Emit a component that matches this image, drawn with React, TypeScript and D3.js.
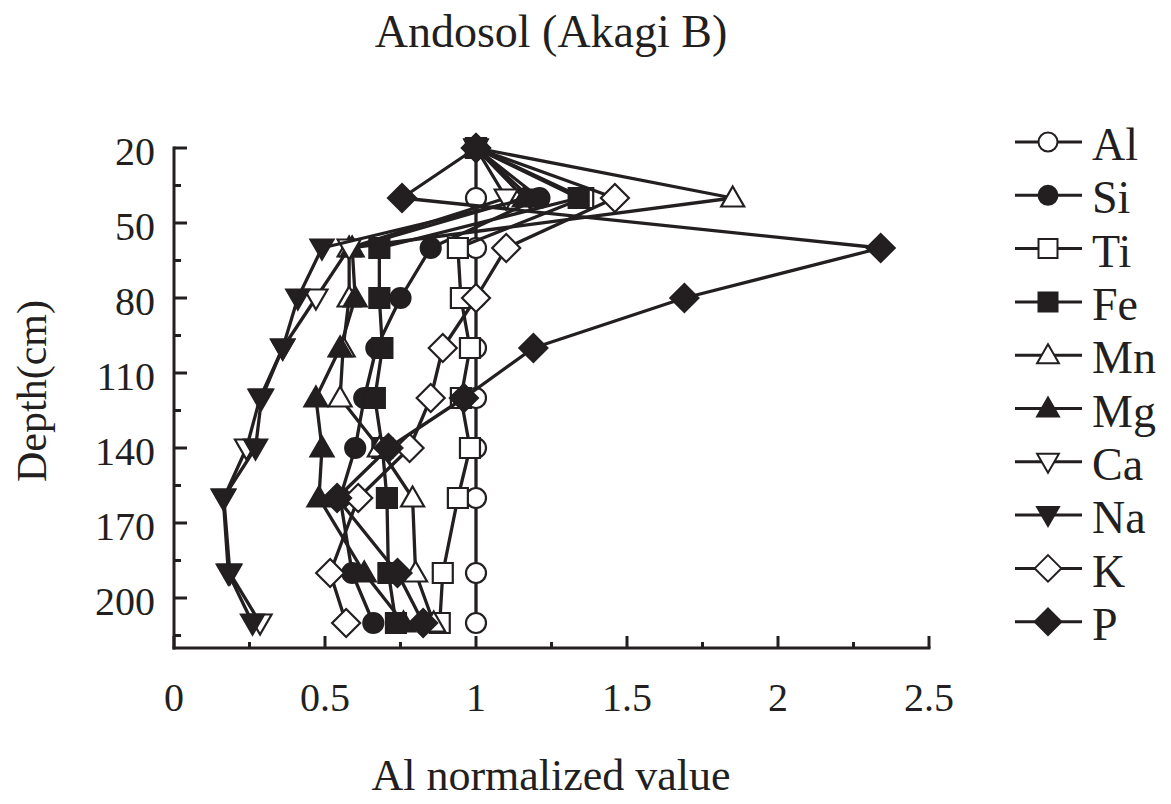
import React from "react";
import * as d3 from "d3";

// Sampling depths (cm)
const depths = [20, 40, 60, 80, 100, 120, 140, 160, 190, 210];

// Al-normalized values for each element, one per depth
const al = [1, 1, 1, 1, 1, 1, 1, 1, 1, 1];
const si = [1, 1.21, 0.85, 0.75, 0.67, 0.63, 0.6, 0.55, 0.59, 0.66];
const ti = [1, 1.355, 0.94, 0.95, 0.98, 0.95, 0.98, 0.94, 0.89, 0.88];
const fe = [1, 1.34, 0.68, 0.68, 0.69, 0.665, 0.69, 0.705, 0.71, 0.735];
const mn = [1, 1.85, 0.58, 0.58, 0.56, 0.55, 0.68, 0.79, 0.8, 0.86];
const mg = [1, 1.16, 0.59, 0.6, 0.55, 0.47, 0.49, 0.48, 0.63, 0.76];
const ca = [1, 1.1, 0.58, 0.47, 0.36, 0.285, 0.24, 0.165, 0.185, 0.285];
const na = [1, 1.18, 0.49, 0.41, 0.36, 0.29, 0.27, 0.163, 0.18, 0.26];
const k = [1, 1.46, 1.1, 1.0, 0.89, 0.85, 0.78, 0.61, 0.517, 0.57];
const p = [1, 0.755, 2.34, 1.69, 1.19, 0.96, 0.71, 0.54, 0.74, 0.825];

const seriesNames = ["Al", "Si", "Ti", "Fe", "Mn", "Mg", "Ca", "Na", "K", "P"];
const seriesValues = [al, si, ti, fe, mn, mg, ca, na, k, p];
type Shape = "circle" | "square" | "up" | "down" | "diamond";
const seriesShapes: Shape[] = ["circle", "circle", "square", "square", "up", "up", "down", "down", "diamond", "diamond"];
const seriesFilled = [false, true, false, true, false, true, false, true, false, true];

const xTickLabels = [0, 0.5, 1, 1.5, 2, 2.5];
const yTickLabels = [20, 50, 80, 110, 140, 170, 200];

const INK = "#231f20";
const FONT = "'Liberation Serif', 'Times New Roman', Times, serif";

function markerPath(shape: Shape, s: number): string {
  // s is the half-size of the marker
  switch (shape) {
    case "circle":
      return `M${-s},0A${s},${s} 0 1,0 ${s},0A${s},${s} 0 1,0 ${-s},0Z`;
    case "square":
      return `M${-s},${-s}H${s}V${s}H${-s}Z`;
    case "up":
      return `M0,${-s * 1.15}L${s * 1.15},${s * 0.85}L${-s * 1.15},${s * 0.85}Z`;
    case "down":
      return `M0,${s * 1.15}L${s * 1.15},${-s * 0.85}L${-s * 1.15},${-s * 0.85}Z`;
    case "diamond":
      return `M0,${-s * 1.4}L${s * 1.4},0L0,${s * 1.4}L${-s * 1.4},0Z`;
  }
}

export default function App() {
  const width = 1171;
  const height = 804;
  const x = d3.scaleLinear().domain([0, 2.5]).range([174, 929]);
  const y = d3.scaleLinear().domain([20, 220]).range([148, 648]);

  const line = d3
    .line<[number, number]>()
    .x((d) => x(d[0]))
    .y((d) => y(d[1]));

  const xTicks = d3.range(0, 2.5001, 0.25);
  const yTicks = d3.range(20, 216, 15);

  return (
    <svg width={width} height={height} style={{ position: "absolute", left: 0, top: 0, background: "#fff" }}>
      <rect x={0} y={0} width={width} height={height} fill="#fff" />
      <text x={551} y={47} textAnchor="middle" fontFamily={FONT} fontSize={46} fill={INK}>
        Andosol (Akagi B)
      </text>

      {/* element profiles */}
      {seriesValues.map((vals, i) => {
        const pts: [number, number][] = vals.map((v, j) => [v, depths[j]]);
        return (
          <g key={seriesNames[i]}>
            <path d={line(pts) || ""} fill="none" stroke={INK} strokeWidth={3.3} strokeLinejoin="round" />
            {pts.map((pt, j) => (
              <path
                key={j}
                d={markerPath(seriesShapes[i], 10)}
                transform={`translate(${x(pt[0])},${y(pt[1])})`}
                fill={seriesFilled[i] ? INK : "#fff"}
                stroke={INK}
                strokeWidth={2.2}
              />
            ))}
          </g>
        );
      })}

      {/* axes */}
      <line x1={174} y1={146.5} x2={174} y2={649.5} stroke={INK} strokeWidth={3} />
      <line x1={172.5} y1={648} x2={930.5} y2={648} stroke={INK} strokeWidth={3} />
      {yTicks.map((t) => {
        const major = (t - 20) % 30 === 0;
        return <line key={t} x1={174} x2={174 + (major ? 13 : 7)} y1={y(t)} y2={y(t)} stroke={INK} strokeWidth={3} />;
      })}
      {xTicks.map((t, i) => {
        const major = i % 2 === 0;
        return <line key={t} x1={x(t)} x2={x(t)} y1={648} y2={648 - (major ? 12 : 6)} stroke={INK} strokeWidth={3} />;
      })}
      {yTickLabels.map((t) => (
        <text key={t} x={155} y={y(t) + 3} dy="0.35em" textAnchor="end" fontFamily={FONT} fontSize={40} fill={INK}>
          {t}
        </text>
      ))}
      {xTickLabels.map((t) => (
        <text key={t} x={x(t)} y={711} textAnchor="middle" fontFamily={FONT} fontSize={40} fill={INK}>
          {t}
        </text>
      ))}
      <text x={551} y={790} textAnchor="middle" fontFamily={FONT} fontSize={44} fill={INK}>
        Al normalized value
      </text>
      <text
        transform="translate(46,391) rotate(-90)"
        textAnchor="middle"
        fontFamily={FONT}
        fontSize={42}
        fill={INK}
      >
        Depth(cm)
      </text>

      {/* legend */}
      {seriesNames.map((name, i) => {
        const ly = 142 + i * 53.3;
        return (
          <g key={name}>
            <line x1={1015} x2={1082} y1={ly} y2={ly} stroke={INK} strokeWidth={3} />
            <path
              d={markerPath(seriesShapes[i], 9.5)}
              transform={`translate(1048,${ly})`}
              fill={seriesFilled[i] ? INK : "#fff"}
              stroke={INK}
              strokeWidth={2}
            />
            <text x={1092} y={ly + 2} dy="0.35em" fontFamily={FONT} fontSize={46} fill={INK}>
              {name}
            </text>
          </g>
        );
      })}
    </svg>
  );
}
